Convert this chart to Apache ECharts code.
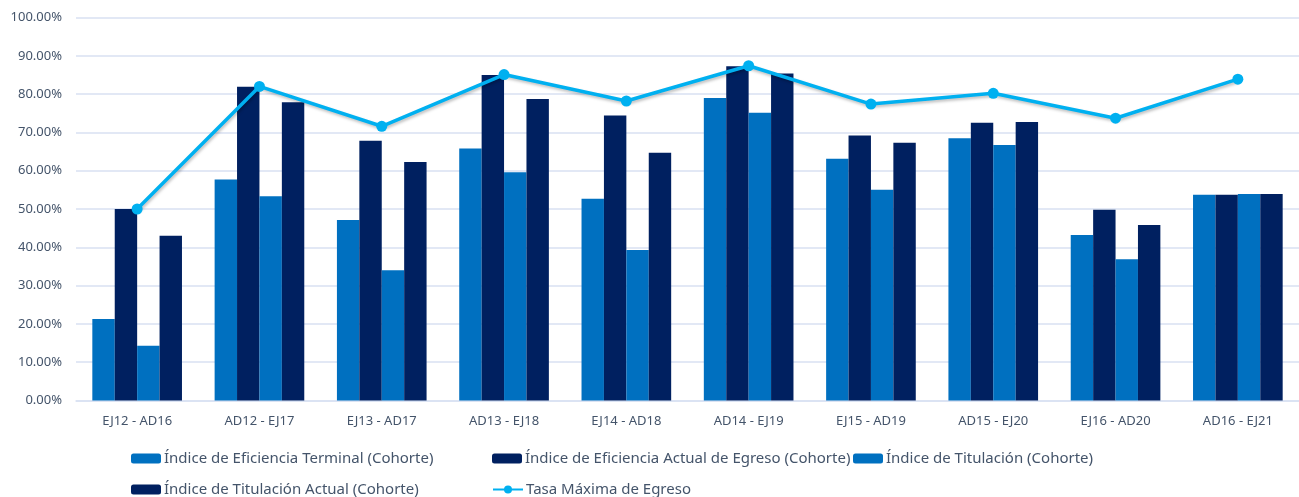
<!DOCTYPE html>
<html>
<head>
<meta charset="utf-8">
<script src="https://cdn.jsdelivr.net/npm/echarts@6/dist/echarts.min.js"></script>
<style>
    html, body { margin: 0; padding: 0; background: #fff; }
    #chart { width: 1299px; height: 497px; }
</style>
</head>
<body>
<div id="chart"></div>
<script>
    // categorías (cohortes)
    const cohortes = ['EJ12 - AD16', 'AD12 - EJ17', 'EJ13 - AD17', 'AD13 - EJ18', 'EJ14 - AD18',
        'AD14 - EJ19', 'EJ15 - AD19', 'AD15 - EJ20', 'EJ16 - AD20', 'AD16 - EJ21'];
    const eficienciaTerminal = [21.3, 57.7, 47.1, 65.8, 52.7, 79.0, 63.1, 68.5, 43.2, 53.7];
    const eficienciaActual = [50.0, 81.9, 67.8, 85.0, 74.4, 87.3, 69.2, 72.5, 49.8, 53.7];
    const titulacion = [14.3, 53.3, 34.0, 59.6, 39.3, 75.1, 55.0, 66.7, 36.9, 53.9];
    const titulacionActual = [43.0, 77.9, 62.3, 78.7, 64.7, 85.4, 67.3, 72.7, 45.8, 53.9];
    const tasaMaxima = [50.0, 82.0, 71.6, 85.1, 78.2, 87.4, 77.4, 80.2, 73.7, 83.9];
    const yTicks = [0, 10, 20, 30, 40, 50, 60, 70, 80, 90, 100];

    const nombres = [
        'Índice de Eficiencia Terminal (Cohorte)',
        'Índice de Eficiencia Actual de Egreso (Cohorte)',
        'Índice de Titulación (Cohorte)',
        'Índice de Titulación Actual (Cohorte)',
        'Tasa Máxima de Egreso'
    ];

    const fuente = "'Liberation Sans Narrow', 'Noto Sans', sans-serif";
    const azul = '#0070C0';
    const marino = '#002060';
    const celeste = '#00B0F0';

    function leyenda(nombre, left, top) {
        return {
            data: [nombre],
            left: left,
            top: top,
            itemWidth: 30,
            itemHeight: 10,
            itemGap: 4,
            padding: 0,
            textStyle: { fontFamily: fuente, fontSize: 15, color: '#44546A', padding: [0, 0, 0, -2] }
        };
    }

    function barra(nombre, datos, color) {
        return {
            name: nombre,
            type: 'bar',
            data: datos,
            barGap: 0,
            barCategoryGap: '26.7%',
            itemStyle: { color: color }
        };
    }

    const chart = echarts.init(document.getElementById('chart'));
    chart.setOption({
        animation: false,
        textStyle: { fontFamily: fuente },
        legend: [
            leyenda(nombres[0], 131, 451),
            leyenda(nombres[1], 492, 451),
            leyenda(nombres[2], 853, 451),
            leyenda(nombres[3], 131, 482),
            leyenda(nombres[4], 492, 482)
        ],
        grid: { left: 76, right: -13, top: 17.5, bottom: 96.5 },
        xAxis: {
            type: 'category',
            data: cohortes,
            axisLine: { lineStyle: { color: '#D9E1F2', width: 1.5 } },
            axisTick: { show: false },
            axisLabel: { color: '#44546A', fontSize: 13, fontFamily: fuente, margin: 14 }
        },
        yAxis: {
            type: 'value',
            min: yTicks[0],
            max: yTicks[yTicks.length - 1],
            interval: 10,
            axisLine: { show: false },
            axisTick: { show: false },
            splitLine: { lineStyle: { color: '#D9E1F2', width: 1.5 } },
            axisLabel: {
                color: '#44546A', fontSize: 13, fontFamily: fuente, margin: 14,
                formatter: v => v.toFixed(2) + '%'
            }
        },
        series: [
            barra(nombres[0], eficienciaTerminal, azul),
            barra(nombres[1], eficienciaActual, marino),
            barra(nombres[2], titulacion, azul),
            barra(nombres[3], titulacionActual, marino),
            {
                name: nombres[4],
                type: 'line',
                data: tasaMaxima,
                symbol: 'circle',
                symbolSize: 11,
                itemStyle: { color: celeste },
                lineStyle: {
                    color: celeste, width: 3.5,
                    shadowColor: 'rgba(0,0,0,0.25)', shadowBlur: 3, shadowOffsetX: 1, shadowOffsetY: 2
                },
                z: 5
            }
        ]
    });
</script>
</body>
</html>
